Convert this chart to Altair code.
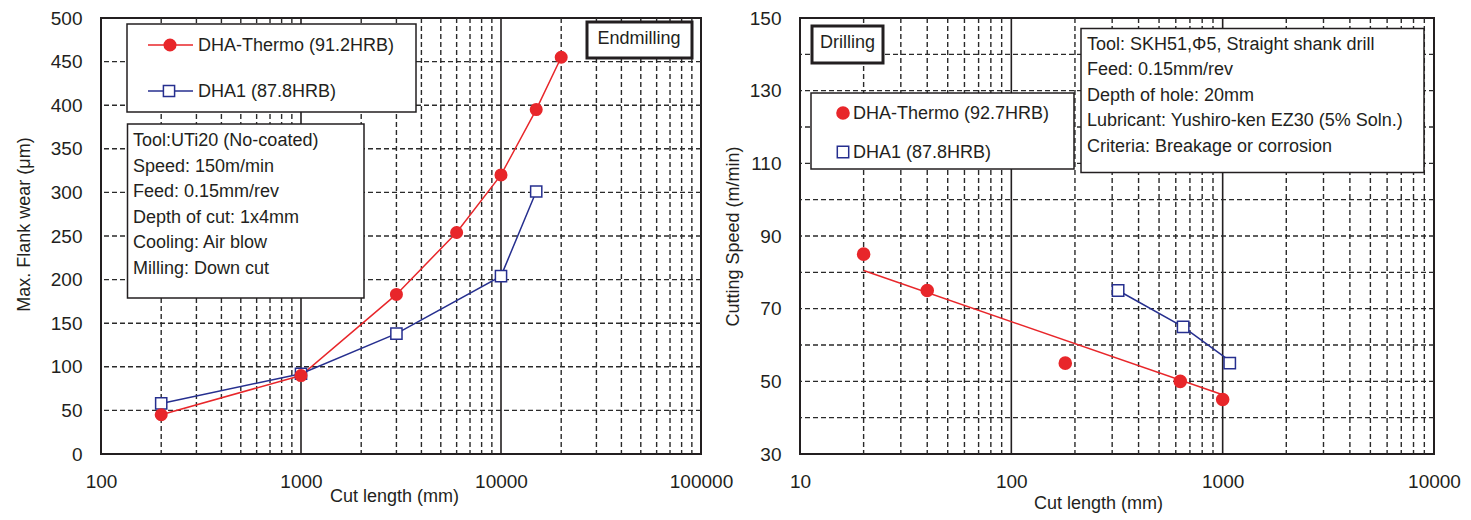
import altair as alt
import pandas as pd

# ---------------- data: Endmilling (left) ----------------
em_thermo_len = [200, 1000, 3000, 6000, 10000, 15000, 20000]
em_thermo_wear = [45, 90, 183, 254, 320, 395, 455]
em_dha1_len = [200, 1000, 3000, 10000, 15000]
em_dha1_wear = [58, 92, 138, 204, 301]

em_x_ticks = [100, 1000, 10000, 100000]
em_y_ticks = [0, 50, 100, 150, 200, 250, 300, 350, 400, 450, 500]
em_x_minor = [200, 300, 400, 500, 600, 700, 800, 900,
              2000, 3000, 4000, 5000, 6000, 7000, 8000, 9000,
              20000, 30000, 40000, 50000, 60000, 70000, 80000, 90000]
em_x_major = [1000, 10000]
em_y_grid = [50, 100, 150, 200, 250, 300, 350, 400, 450]

# ---------------- data: Drilling (right) ----------------
dr_thermo_len = [20, 40, 180, 630, 1000]
dr_thermo_speed = [85, 75, 55, 50, 45]
dr_thermo_fit_len = [20, 1000]
dr_thermo_fit_speed = [80.5, 46.3]
dr_dha1_len = [320, 650, 1080]
dr_dha1_speed = [75, 65, 55]
dr_dha1_fit_len = [320, 650, 1030]
dr_dha1_fit_speed = [75, 65, 56.5]

dr_x_ticks = [10, 100, 1000, 10000]
dr_y_ticks = [30, 50, 70, 90, 110, 130, 150]
dr_x_minor = [20, 30, 40, 50, 60, 70, 80, 90,
              200, 300, 400, 500, 600, 700, 800, 900,
              2000, 3000, 4000, 5000, 6000, 7000, 8000, 9000]
dr_x_major = [100, 1000]
dr_y_grid = [40, 50, 60, 70, 80, 90, 100, 110, 120, 130, 140]

# ---------------- text ----------------
em_legend = ["DHA-Thermo (91.2HRB)", "DHA1 (87.8HRB)"]
em_info = ["Tool:UTi20 (No-coated)", "Speed: 150m/min", "Feed: 0.15mm/rev",
           "Depth of cut: 1x4mm", "Cooling: Air blow", "Milling: Down cut"]
dr_legend = ["DHA-Thermo (92.7HRB)", "DHA1 (87.8HRB)"]
dr_info = ["Tool: SKH51,\u03a65, Straight shank drill", "Feed: 0.15mm/rev",
           "Depth of hole: 20mm", "Lubricant: Yushiro-ken EZ30 (5% Soln.)",
           "Criteria: Breakage or corrosion"]

FONT = "Liberation Sans"
INK = "#231f20"
RED = "#e8262a"
BLUE = "#262f8f"
GRID = "#2a2a2a"

W1, W2, H = 600, 634, 436


def x_enc(domain, ticks, title, tx, ty):
    return alt.X("x:Q", scale=alt.Scale(type="log", domain=domain, nice=False),
                 axis=alt.Axis(values=ticks, format="d", grid=False, ticks=False, tickSize=0,
                               domain=False, labelPadding=18, labelFontSize=19, labelFont=FONT,
                               labelColor=INK, labelFlush=False, labelOverlap=False,
                               title=title, titleX=tx, titleY=ty, titleBaseline="middle",
                               titleAlign="center", titleFontSize=18, titleFont=FONT,
                               titleFontWeight="normal", titleColor=INK))


def y_enc(domain, ticks, title, tx, ty):
    return alt.Y("y:Q", scale=alt.Scale(domain=domain, nice=False, zero=False),
                 axis=alt.Axis(values=ticks, format="d", grid=False, ticks=False, tickSize=0,
                               domain=False, labelPadding=19, labelFontSize=19, labelFont=FONT,
                               labelColor=INK, labelOverlap=False,
                               title=title, titleX=tx, titleY=ty, titleBaseline="middle",
                               titleAlign="center", titleAngle=270, titleFontSize=18,
                               titleFont=FONT, titleFontWeight="normal", titleColor=INK))


one = pd.DataFrame({"k": [0]})


def box(x1, x2, y1, y2, sw=1.5):
    return alt.Chart(one).mark_rect(fill="white", stroke=INK, strokeWidth=sw).encode(
        x=alt.value(x1), x2=alt.value(x2), y=alt.value(y1), y2=alt.value(y2))


def label(txt, x, y, size=18, align="left", lh=25.6):
    return alt.Chart(one).mark_text(align=align, baseline="middle", font=FONT, fontSize=size,
                                    color=INK, lineHeight=lh).encode(
        x=alt.value(x), y=alt.value(y), text=alt.value(txt))


def panel(X, Y, minor, major, ygrid):
    vminor = alt.Chart(pd.DataFrame({"x": minor})).mark_rule(
        color=GRID, strokeWidth=1.4, strokeDash=[5, 3]).encode(x=X)
    vmajor = alt.Chart(pd.DataFrame({"x": major})).mark_rule(
        color=INK, strokeWidth=1.6).encode(x=X)
    hgrid = alt.Chart(pd.DataFrame({"y": ygrid})).mark_rule(
        color=GRID, strokeWidth=1.4, strokeDash=[5, 3]).encode(y=Y)
    return [vminor, vmajor, hgrid]


# ---------------- left panel ----------------
XL = x_enc([100, 100000], em_x_ticks, "Cut length (mm)", 293, 42)
YL = y_enc([0, 500], em_y_ticks, "Max. Flank wear (\u03bcm)", -77, 206)

em_t = pd.DataFrame({"x": em_thermo_len, "y": em_thermo_wear})
em_d = pd.DataFrame({"x": em_dha1_len, "y": em_dha1_wear})

left_layers = panel(XL, YL, em_x_minor, em_x_major, em_y_grid) + [
    box(26, 315, 6, 94),
    alt.Chart(one).mark_rule(color=RED, strokeWidth=1.5).encode(
        x=alt.value(47), x2=alt.value(92), y=alt.value(27)),
    alt.Chart(one).mark_point(shape="circle", filled=True, color=RED, size=170, opacity=1).encode(
        x=alt.value(69), y=alt.value(27)),
    label(em_legend[0], 97, 27.5),
    alt.Chart(one).mark_rule(color=BLUE, strokeWidth=1.5).encode(
        x=alt.value(47), x2=alt.value(92), y=alt.value(73)),
    alt.Chart(one).mark_point(shape="square", filled=True, fill="white", stroke=BLUE,
                              strokeWidth=1.5, size=125, opacity=1).encode(
        x=alt.value(68), y=alt.value(73)),
    label(em_legend[1], 97, 73.5),
    box(26.5, 263, 106, 280),
    label(em_info, 32, 123, size=18),
    box(486, 591, 4, 40, sw=3),
    label("Endmilling", 538, 21, align="center"),
    alt.Chart(em_t).mark_line(color=RED, strokeWidth=1.5).encode(x=XL, y=YL),
    alt.Chart(em_d).mark_line(color=BLUE, strokeWidth=1.5).encode(x=XL, y=YL),
    alt.Chart(em_d).mark_point(shape="square", filled=True, fill="white", stroke=BLUE,
                               strokeWidth=1.5, size=125, opacity=1).encode(x=XL, y=YL),
    alt.Chart(em_t).mark_point(shape="circle", filled=True, color=RED, size=170,
                               opacity=1).encode(x=XL, y=YL),
]
left = alt.layer(*left_layers).properties(width=W1, height=H)

# ---------------- right panel ----------------
XR = x_enc([10, 10000], dr_x_ticks, "Cut length (mm)", 298, 49)
YR = y_enc([30, 150], dr_y_ticks, "Cutting Speed (m/min)", -67, 218)

dr_t = pd.DataFrame({"x": dr_thermo_len, "y": dr_thermo_speed})
dr_tf = pd.DataFrame({"x": dr_thermo_fit_len, "y": dr_thermo_fit_speed})
dr_d = pd.DataFrame({"x": dr_dha1_len, "y": dr_dha1_speed})
dr_df = pd.DataFrame({"x": dr_dha1_fit_len, "y": dr_dha1_fit_speed})

right_layers = panel(XR, YR, dr_x_minor, dr_x_major, dr_y_grid) + [
    box(12, 83, 8, 45, sw=3),
    label("Drilling", 47.5, 25, align="center"),
    box(11, 274, 75, 151),
    alt.Chart(one).mark_point(shape="circle", filled=True, color=RED, size=185, opacity=1).encode(
        x=alt.value(43), y=alt.value(95)),
    label(dr_legend[0], 53, 95.5),
    alt.Chart(one).mark_point(shape="square", filled=True, fill="white", stroke=BLUE,
                              strokeWidth=1.5, size=130, opacity=1).encode(
        x=alt.value(43), y=alt.value(134)),
    label(dr_legend[1], 53, 134.5),
    box(281, 624, 10.5, 154.5),
    label(dr_info, 287, 26.5, size=18),
    alt.Chart(dr_tf).mark_line(color=RED, strokeWidth=1.5).encode(x=XR, y=YR),
    alt.Chart(dr_df).mark_line(color=BLUE, strokeWidth=1.5).encode(x=XR, y=YR),
    alt.Chart(dr_d).mark_point(shape="square", filled=True, fill="white", stroke=BLUE,
                               strokeWidth=1.5, size=130, opacity=1).encode(x=XR, y=YR),
    alt.Chart(dr_t).mark_point(shape="circle", filled=True, color=RED, size=185,
                               opacity=1).encode(x=XR, y=YR),
]
right = alt.layer(*right_layers).properties(width=W2, height=H)

chart = alt.hconcat(left, right, spacing=99, bounds="flush").properties(
    padding={"left": 6, "top": 0, "right": 0, "bottom": 0},
    background="white",
).configure_view(stroke=INK, strokeWidth=2)

chart.save("out.html", embed_options={"renderer": "svg", "actions": False})
